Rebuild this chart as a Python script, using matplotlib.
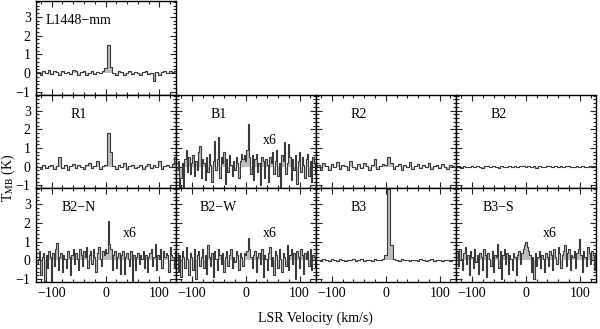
import numpy as np
import matplotlib
matplotlib.use('Agg')
import matplotlib.pyplot as plt
from matplotlib.ticker import MultipleLocator

plt.rcParams['font.family'] = 'Liberation Serif'
plt.rcParams['mathtext.fontset'] = 'stix'

# velocity channels (km/s): 5 km/s for the quiet spectra, 2.5 km/s for the x6 ones
vel5 = np.arange(-130, 135, 5)
vel25 = np.arange(-130, 132.5, 2.5)

names = ['L1448\u2212mm', 'R1', 'B1', 'R2', 'B2', 'B2\u2212N', 'B2\u2212W', 'B3', 'B3\u2212S']
scaled = ['B1', 'B2\u2212N', 'B2\u2212W', 'B3\u2212S']   # panels shown x6

l1448 = [0.08, 0.05, -0.10, 0.10, 0.00, 0.15, -0.05, 0.10, 0.05, -0.10, 0.12,
         0.00, 0.08, -0.05, 0.15, 0.10, -0.08, 0.05, 0.12, -0.10, 0.00,
         0.10, -0.05, 0.05, 0.00, 0.10, 0.25, 1.50, 0.30, 0.00, -0.10,
         0.10, 0.05, -0.08, 0.00, 0.10, -0.05, 0.08, 0.00, -0.10, 0.05,
         0.10, -0.05, 0.00, -0.45, 0.08, -0.10, 0.05, 0.10, 0.00, 0.12, 0.05, 0.10]
r1 = [0.05, 0.00, -0.10, 0.10, -0.05, 0.05, 0.10, -0.10, 0.05, 0.50, -0.05,
      0.10, -0.15, 0.05, 0.15, -0.05, 0.10, 0.00, -0.10, 0.08, 0.20,
      -0.05, 0.05, 0.30, -0.10, 0.05, 0.10, 1.80, 0.80, 0.05, -0.10,
      0.10, 0.00, 0.20, -0.10, 0.05, 0.10, -0.05, 0.00, 0.10, -0.10,
      0.05, 0.15, -0.05, 0.10, 0.00, 0.30, -0.10, 0.05, 0.10, 0.00, 0.15, 0.50]
r2 = [0.05, 0.10, -0.15, 0.20, 0.05, -0.20, 0.15, 0.00, 0.25, -0.10, 0.10,
      0.05, -0.15, 0.30, 0.00, -0.10, 0.15, -0.05, 0.20, 0.05, -0.15,
      0.10, 0.40, -0.10, 0.05, 0.15, 0.10, 0.50, 0.20, -0.10, 0.05,
      0.15, -0.15, 0.10, 0.00, 0.25, -0.10, 0.05, 0.15, -0.05, 0.10,
      0.00, 0.20, -0.10, 0.05, 0.10, -0.05, 0.15, 0.00, -0.10, 0.10, 0.05, 0.00]
b2 = [0.03, 0.02, -0.05, 0.05, 0.00, -0.03, 0.06, -0.04, 0.03, 0.00, -0.06,
      0.05, 0.02, -0.03, 0.04, 0.00, -0.05, 0.06, 0.01, -0.04, 0.03,
      0.00, 0.05, -0.03, 0.02, 0.04, 0.00, 0.06, -0.02, 0.03, -0.05,
      0.04, 0.00, -0.03, 0.05, 0.02, -0.04, 0.03, 0.00, 0.05, -0.03,
      0.02, 0.06, -0.04, 0.00, 0.03, -0.02, 0.05, 0.00, -0.03, 0.04, 0.02, 0.05]
b3 = [0.03, 0.00, -0.05, 0.05, 0.02, -0.04, 0.06, 0.00, -0.03, 0.05, 0.02,
      -0.05, 0.04, 0.00, 0.06, -0.03, 0.02, 0.05, -0.04, 0.00, 0.03,
      -0.02, 0.05, 0.00, 0.04, 0.08, 0.30, 3.80, 0.80, 0.10, 0.02,
      -0.04, 0.05, 0.00, 0.03, -0.05, 0.04, 0.01, -0.03, 0.05, 0.00,
      -0.04, 0.03, 0.05, -0.02, 0.00, 0.04, -0.05, 0.02, 0.03, -0.02, 0.04, 0.00]

b1 = [0.1, -0.2, 0.3, -1.3, -0.6, 0.2, -1.2, 0.4, 0.9, -0.3,
      0.5, -0.4, 0.2, 0.6, -0.5, 0.3, -0.2, 0.8, 1.1, -0.6,
      0.4, 0.2, -0.7, 0.5, -0.3, 0.7, 0.1, -0.8, 0.3, 1.4,
      -0.2, 0.4, 1.6, -0.6, 0.5, 0.2, 0.8, -0.9, 0.4, -0.3,
      0.6, 0.1, -0.5, 0.3, -0.2, 0.5, 0.2, -0.6, 0.3, 0.7,
      0.4, 0.6, 0.3, 0.9, 2.3, 0.5, -0.4, 0.6, -0.7, 0.4,
      0.7, -0.3, 0.2, -1.0, 0.5, 0.3, -0.6, 0.4, 0.1, -0.8,
      0.5, 0.2, 0.8, -0.4, 0.3, 0.9, -0.5, 0.2, -1.1, 0.6,
      0.3, 1.3, -0.4, 0.2, 1.2, 0.5, -0.7, 0.4, -0.2, 0.6,
      -0.9, 0.3, 0.8, -0.3, 0.5, 0.1, -0.6, 0.4, 0.7, -0.5,
      0.3, -0.8, 0.5, 0.2, -0.4]
b2n = [0.3, -0.2, 0.1, 0.5, -0.8, 0.2, 0.4, -1.1, 0.3, -0.4,
       0.5, 0.2, -1.2, 0.4, -0.3, 0.6, 0.95, -0.5, 0.2, 0.4,
       -0.6, 0.3, 0.1, -0.4, 0.5, 0.2, -0.8, 0.3, 0.6, -0.2,
       0.4, 0.1, -0.5, 0.6, 0.3, -0.3, 0.5, 0.2, 0.7, -0.4,
       0.3, 0.5, -0.2, 0.6, 0.2, -0.6, 0.4, 0.7, 0.1, -0.3,
       0.5, 0.3, 0.6, 0.4, 2.1, 0.9, 0.6, -0.5, 0.3, 0.5,
       -0.4, 0.2, 0.4, -0.7, 0.3, 0.5, -0.7, 0.2, 0.4, 0.1,
       -0.3, 0.5, -1.1, 0.3, -0.5, 0.2, 0.4, -0.2, 0.3, 0.1,
       0.5, -0.4, 0.3, -0.6, 0.2, 0.4, 0.6, -0.3, 0.2, 0.9,
       -0.5, 0.3, 0.1, 0.6, -0.4, 0.5, 0.2, 0.4, 0.3, -0.6,
       0.7, 0.3, 0.2, -0.4, 0.5]
b2w = [-0.2, 0.4, -0.6, 0.3, -0.9, 0.5, 0.2, -0.4, 0.7, 0.1,
       -0.8, 0.4, 0.2, -0.5, 0.6, -1.0, 0.3, 0.5, -0.3, 0.2,
       0.6, -0.4, 0.3, -0.7, 0.8, 0.2, -0.3, 0.4, -0.9, 0.5,
       0.1, -0.5, 0.6, 0.3, -0.2, 0.4, -0.6, 0.2, 0.5, -0.3,
       0.3, 0.6, -0.4, 0.2, -0.1, 0.5, 0.3, -0.5, 0.4, 0.2,
       -0.3, 0.4, 0.3, 0.5, 1.2, 0.6, 0.2, -0.4, 0.3, 0.5,
       -0.6, 0.2, 0.4, -0.2, 0.6, -0.9, 0.3, 0.1, -0.5, 0.4,
       0.7, -0.3, 0.2, -0.8, 0.5, 0.3, -0.4, 0.6, 0.1, -0.6,
       0.4, 0.2, -0.3, 0.8, -0.5, 0.3, 0.6, -0.2, 0.4, -1.0,
       0.5, 0.2, -0.4, 0.6, 0.3, -0.7, 0.4, 0.1, 0.5, -0.3,
       0.6, -0.5, 0.3, 0.2, -0.4]
b3s = [0.2, 0.5, -0.3, 0.6, 0.1, -0.5, 0.4, 0.7, -0.2, 0.3,
       -0.8, 0.5, 0.2, -0.4, 0.6, -0.1, 0.3, -0.7, 0.4, 0.2,
       -0.5, 0.6, 0.3, -0.9, 0.4, 0.1, -0.3, 0.5, -0.6, 0.3,
       0.2, 0.9, -0.4, 0.5, -1.0, 0.3, 0.6, -0.2, 0.4, -0.7,
       0.3, 0.1, -0.5, 0.4, 0.2, -0.8, 0.3, 0.5, -0.2, 0.4,
       0.6, 0.8, 1.0, 0.7, 0.5, 0.3, -0.6, 0.2, -1.0, 0.4,
       -0.3, 0.2, 0.5, -0.4, 0.3, 0.1, -0.6, 0.4, 0.2, -0.3,
       0.5, 0.3, -0.5, 0.6, 0.2, -0.2, 0.7, 0.4, -0.4, 0.3,
       0.5, 0.8, -0.3, 0.4, 0.6, -0.5, 0.3, 0.2, 0.5, -0.4,
       0.4, 0.6, 1.15, 0.3, -0.6, 0.5, 0.2, -0.3, 0.7, 0.4,
       -0.2, 0.5, 0.3, -0.5, 0.4]

spectra = dict(zip(names, [l1448, r1, b1, r2, b2, b2n, b2w, b3, b3s]))

# grid cell (row, col) for each panel
cells = dict(zip(names, [(0, 0), (1, 0), (1, 1), (1, 2), (1, 3),
                         (2, 0), (2, 1), (2, 2), (2, 3)]))

fig = plt.figure(figsize=(6.0, 3.29), dpi=100)

left, colw = 0.0592, 0.2335
bottom, rowh = 0.1429, 0.2848

for name in names:
    r, c = cells[name]
    ax = fig.add_axes([left + c * colw, bottom + (2 - r) * rowh, colw, rowh])
    y = np.array(spectra[name])
    v = vel25 if name in scaled else vel5
    ax.fill_between(v, y, 0, step='mid', color='#bdbdbd', lw=0)
    ax.step(v, y, where='mid', color='#3a3a3a', lw=0.8)
    ax.set_xlim(-130, 130)
    ax.set_ylim(-1.15, 3.85)
    ax.xaxis.set_major_locator(MultipleLocator(100))
    ax.xaxis.set_minor_locator(MultipleLocator(20))
    ax.yaxis.set_major_locator(MultipleLocator(1))
    ax.yaxis.set_minor_locator(MultipleLocator(0.2))
    ax.tick_params(which='both', direction='in', top=True, right=True,
                   labelsize=10, width=0.8, color='#222222')
    ax.tick_params(which='major', length=4)
    ax.tick_params(which='minor', length=2.2)
    for s in ax.spines.values():
        s.set_linewidth(1.0)
    if c != 0:
        ax.set_yticklabels([])
    if r != 2:
        ax.set_xticklabels([])
    ax.text(0.305, 0.79, name, transform=ax.transAxes, ha='center', va='center',
            fontsize=10)
    if name in scaled:
        ax.text(0.67, 0.515, 'x6', transform=ax.transAxes, ha='center',
                va='center', fontsize=10)

fig.text(0.014, 0.46, r'T$_{\rm MB}$ (K)', rotation=90, ha='center', va='center',
         fontsize=10)
fig.text(0.526, 0.033, 'LSR Velocity (km/s)', ha='center', va='center',
         fontsize=10)

fig.savefig('out.png', dpi=100)
